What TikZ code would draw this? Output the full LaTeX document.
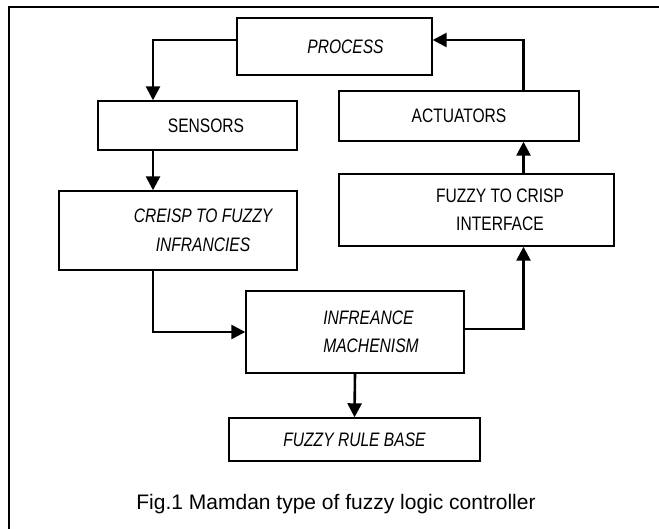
\documentclass[tikz,border=0pt]{standalone}
\usepackage{fontspec}
\setmainfont{Liberation Sans}
\newfontfamily\narrowfont[FakeStretch=0.8]{Liberation Sans}
\usetikzlibrary{arrows.meta, positioning, calc}
\tikzstyle{arrow} = [line width=2.6pt,-{Triangle[length=14pt,width=14pt]}]

\begin{document}
\begin{tikzpicture}[x=1pt, y=-1pt,
        block/.style={draw, rectangle, line width=1.4pt, inner sep=0pt, align=center, font=\narrowfont\fontsize{19.5}{28.5}\selectfont},
        iblock/.style={block, font=\narrowfont\itshape\fontsize{19.5}{28.5}\selectfont},
        arrow/.style={line width=2.6pt,-{Triangle[length=14pt,width=14pt]}}
      ]
        \useasboundingbox (0,0) rectangle (659,529);

        % Frame
        \draw [line width=2pt] (659,7) -- (9,7) -- (9,529);

        % Blocks
        \node (process) [iblock, minimum width=195pt, minimum height=57pt] at (334.5,46.5) {\hspace*{22pt}PROCESS};
        \node (sensors) [block, minimum width=199pt, minimum height=49pt] at (197.5,125.5) {\hspace*{17pt}SENSORS};
        \node (actuators) [block, minimum width=240pt, minimum height=50pt] at (459,116) {ACTUATORS};
        \node (fuzzy_crisp) [block, minimum width=275pt, minimum height=72pt] at (476.5,210) {\hspace*{47pt}FUZZY TO CRISP\\\hspace*{47pt}INTERFACE};
        \node (crisp_fuzzy) [iblock, minimum width=238pt, minimum height=79pt] at (178,230.5) {\hspace*{50pt}CREISP TO FUZZY\\\hspace*{50pt}INFRANCIES};
        \node (inference) [iblock, align=left, minimum width=218pt, minimum height=82pt] at (355,332) {\hspace*{32pt}INFREANCE\\\hspace*{32pt}MACHENISM};
        \node (rule_base) [iblock, minimum width=251pt, minimum height=43pt] at (354.5,439.5) {FUZZY RULE BASE};

        % Bus lines
        \coordinate (left_bus) at (153,40);
        \coordinate (right_bus) at (523.5,40);

        % Arrows
        \draw [arrow] (process.west |- left_bus) -| (sensors.north -| left_bus);
        \draw [arrow] (sensors.south -| left_bus) -- (crisp_fuzzy.north -| left_bus);
        \draw [arrow] (crisp_fuzzy.south -| left_bus) |- (inference.west);
        \draw [arrow] ([yshift=3pt]inference.east) -| (fuzzy_crisp.south -| right_bus);
        \draw [arrow] (fuzzy_crisp.north -| right_bus) -- (actuators.south -| right_bus);
        \draw [arrow] (actuators.north -| right_bus) |- (process.east |- left_bus);
        \draw [arrow] (inference.south) -- (rule_base.north);

        % Caption
        \node (caption) [anchor=base, font=\fontsize{21}{25}\selectfont] at (336,509) {Fig.1 Mamdan type of fuzzy logic controller};
      \end{tikzpicture}
\end{document}
